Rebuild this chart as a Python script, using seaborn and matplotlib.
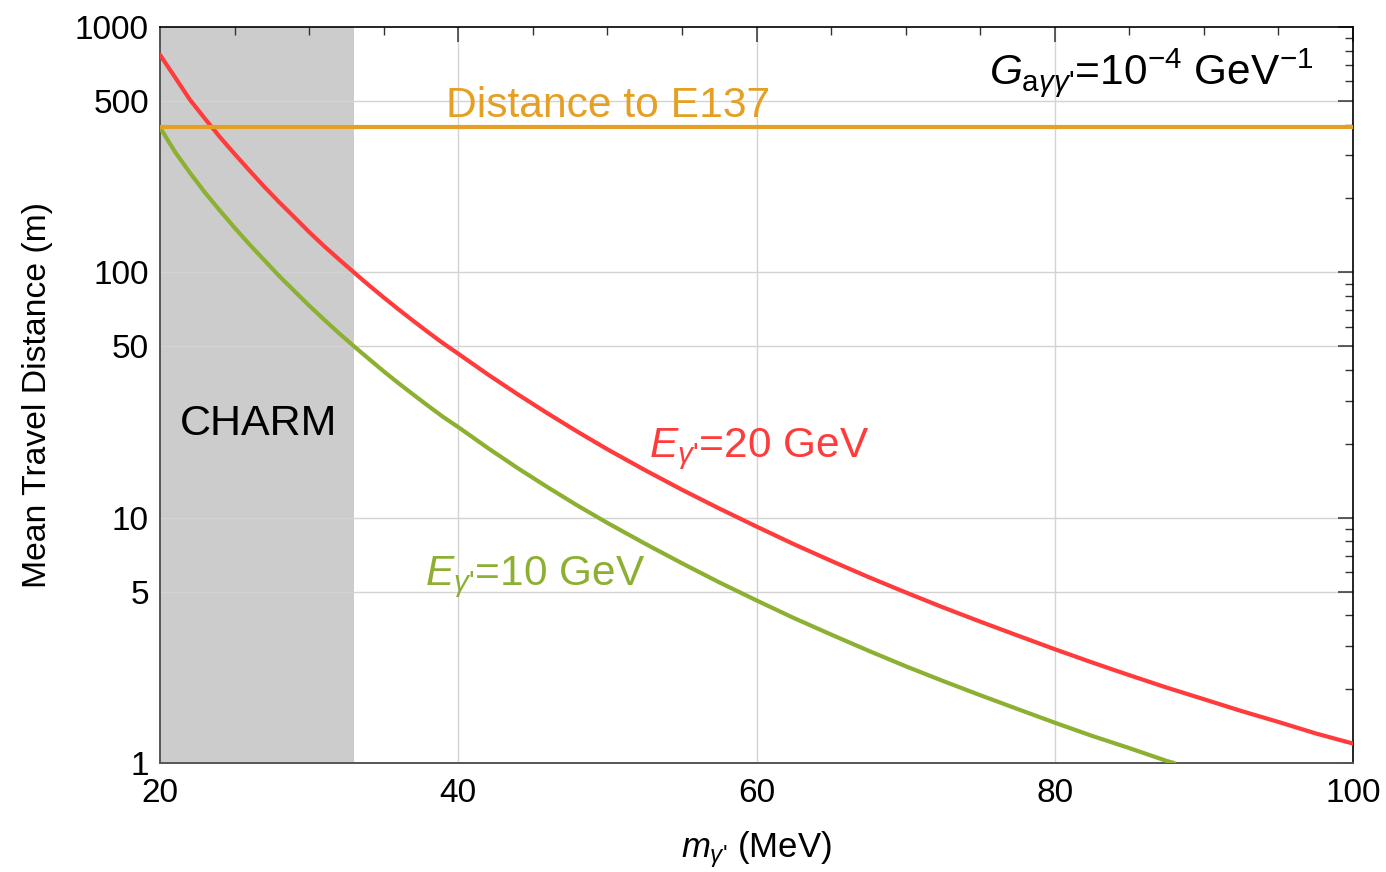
import numpy as np
import pandas as pd
import matplotlib
matplotlib.use("Agg")
import matplotlib.pyplot as plt
import matplotlib.ticker as mticker
import seaborn as sns

# ---- data ----
mass_red = [20, 21, 22, 23, 24, 25, 26, 27, 28, 29, 30, 31, 32, 33, 34, 35, 36, 37, 38, 39, 40,
            42, 44, 46, 48, 50, 52.5, 55, 57.5, 60, 62.5, 65, 67.5, 70, 72.5, 75, 77.5, 80,
            82.5, 85, 87.5, 90, 92.5, 95, 97.5, 100]
dist_red = [770, 625, 506, 424, 357, 304, 260, 223, 193, 168, 146, 128, 113, 100, 88.7, 79.0,
            70.6, 63.3, 56.9, 51.3, 46.6, 38.3, 31.8, 26.6, 22.4, 19.0, 15.65, 13.0, 10.9, 9.2,
            7.8, 6.67, 5.73, 4.96, 4.31, 3.77, 3.31, 2.91, 2.57, 2.28, 2.03, 1.82, 1.63, 1.47,
            1.32, 1.2]

mass_green = [20, 21, 22, 23, 24, 25, 26, 27, 28, 29, 30, 31, 32, 33, 34, 35, 36, 37, 38, 39, 40,
              42, 44, 46, 48, 50, 52.5, 55, 57.5, 60, 62.5, 65, 67.5, 70, 72.5, 75, 77.5, 80,
              82.5, 85, 87.5, 88]
dist_green = [390, 310, 255, 212, 179, 152, 130, 112, 96.5, 84, 73.2, 64.2, 56.5, 50, 44.4,
              39.5, 35.3, 31.7, 28.5, 25.7, 23.4, 19.2, 15.9, 13.3, 11.2, 9.52, 7.85, 6.52, 5.45,
              4.6, 3.9, 3.34, 2.87, 2.48, 2.16, 1.89, 1.66, 1.46, 1.29, 1.15, 1.02, 1.0]

e137_distance = 390
charm_range = [20, 33]

x_ticks = [20, 40, 60, 80, 100]
y_ticks = [1, 5, 10, 50, 100, 500, 1000]

RED = "#FF3B3B"
GREEN = "#8DB032"
ORANGE = "#E5A024"
BAND = "#CCCCCC"

sns.set_theme(style="white")
plt.rcParams["font.family"] = ["Liberation Sans", "DejaVu Sans"]
plt.rcParams["mathtext.fontset"] = "custom"
plt.rcParams["mathtext.rm"] = "Liberation Sans"
plt.rcParams["mathtext.it"] = "Liberation Sans:italic"
plt.rcParams["mathtext.bf"] = "Liberation Sans:bold"

fig = plt.figure(figsize=(13.86, 8.72), dpi=100)
ax = fig.add_axes([160 / 1386, 109 / 872, 1193 / 1386, 736 / 872])

# CHARM excluded band
ax.axvspan(charm_range[0], charm_range[1], color=BAND, zorder=0.2, lw=0)

df_red = pd.DataFrame({"m": mass_red, "L": dist_red})
df_green = pd.DataFrame({"m": mass_green, "L": dist_green})
sns.lineplot(data=df_red, x="m", y="L", color=RED, linewidth=3.0, ax=ax, zorder=3)
sns.lineplot(data=df_green, x="m", y="L", color=GREEN, linewidth=3.0, ax=ax, zorder=3)
ax.axhline(e137_distance, color=ORANGE, linewidth=3.0, zorder=3)

ax.set_yscale("log")
ax.set_xlim(20, 100)
ax.set_ylim(1, 1000)

# ticks, Mathematica-style (inward, on all sides)
ax.set_xticks(x_ticks)
ax.set_xticklabels([str(t) for t in x_ticks])
ax.xaxis.set_minor_locator(mticker.MultipleLocator(5))
ax.yaxis.set_major_locator(mticker.FixedLocator(y_ticks))
ax.yaxis.set_major_formatter(mticker.FixedFormatter([str(t) for t in y_ticks]))
ax.yaxis.set_minor_locator(mticker.LogLocator(base=10, subs=np.arange(2, 10)))
ax.yaxis.set_minor_formatter(mticker.NullFormatter())
ax.tick_params(which="both", direction="in", top=True, right=True,
               color="#333333", labelsize=24, labelcolor="black")
ax.tick_params(which="major", length=11, width=1.1)
ax.tick_params(which="minor", length=6, width=1.0)
ax.tick_params(axis="x", which="major", pad=11)
ax.tick_params(axis="y", which="major", pad=8)

# grid only at a few lines
ax.grid(False)
for gx in [40, 60, 80]:
    ax.axvline(gx, color="#D3D3D3", lw=1.0, zorder=0.5)
for gy in [5, 10, 50, 100, 500]:
    ax.axhline(gy, color="#D3D3D3", lw=1.0, zorder=0.5)

for side in ["left", "bottom"]:
    ax.spines[side].set_color("#555555")
    ax.spines[side].set_linewidth(1.4)
for side in ["top", "right"]:
    ax.spines[side].set_color("black")
    ax.spines[side].set_linewidth(1.2)

ax.set_xlabel(r"$m_{\gamma\text{'}}$ (MeV)", fontsize=25, labelpad=14, color="black")
ax.set_ylabel("Mean Travel Distance (m)", fontsize=24.3, labelpad=16, color="black")

# annotations
ax.text(39.2, 430, "Distance to E137", color=ORANGE, fontsize=30.7, va="baseline")
ax.text(21.3, 21.7, "CHARM", color="black", fontsize=31, va="baseline")
ax.text(52.8, 17.7, r"$E_{\gamma\text{'}}$=20 GeV", color=RED, fontsize=30.5, va="baseline")
ax.text(37.8, 5.3, r"$E_{\gamma\text{'}}$=10 GeV", color=GREEN, fontsize=30.5, va="baseline")
ax.text(75.6, 585, r"$G_{\mathrm{a}\gamma\gamma\text{'}}$=10$^{-4}$ GeV$^{-1}$",
        color="black", fontsize=30.5, va="baseline")

fig.savefig("out.png", dpi=100)
